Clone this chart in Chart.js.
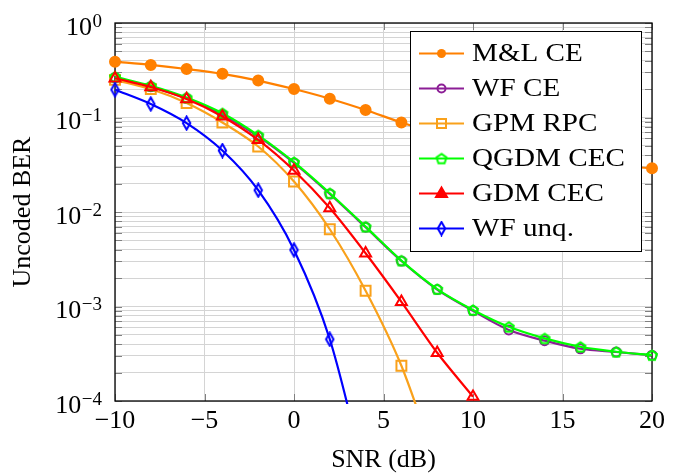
<!DOCTYPE html>
<html>
<head>
<meta charset="utf-8">
<script src="https://cdn.jsdelivr.net/npm/chart.js@4.4.1/dist/chart.umd.min.js"></script>
<style>
  html, body { margin: 0; padding: 0; background: #fff; }
</style>
</head>
<body>
<canvas id="berChart" width="683" height="476"></canvas>
<script>
// SNR grid and BER curves
const snr = [-10, -8, -6, -4, -2, 0, 2, 4, 6, 8, 10, 12, 14, 16, 18, 20];
const mlCE    = [0.39, 0.36, 0.326, 0.29, 0.246, 0.2, 0.158, 0.12, 0.0885, 0.068, 0.055, 0.046, 0.039, 0.034, 0.031, 0.029];
const wfCE    = [0.265, 0.212, 0.159, 0.107, 0.063, 0.033, 0.0155, 0.0069, 0.00303, 0.00151, 0.0009, 0.000565, 0.000435, 0.000357, 0.00033, 0.000305];
const gpmRPC  = [0.25, 0.2, 0.142, 0.0885, 0.0493, 0.021, 0.00657, 0.00147, 0.000236, 0.00002];
const qgdmCEC = [0.27, 0.217, 0.163, 0.111, 0.0648, 0.0337, 0.0158, 0.0070, 0.00306, 0.00153, 0.00092, 0.00061, 0.00046, 0.000375, 0.000332, 0.000306];
const gdmCEC  = [0.26, 0.21, 0.157, 0.1026, 0.058, 0.0275, 0.011, 0.00366, 0.00112, 0.000324, 0.000111];
const wfUnq   = [0.197, 0.139, 0.0873, 0.0447, 0.017, 0.00397, 0.00045, 0.000015];
const seriesNames = ['M&L CE', 'WF CE', 'GPM RPC', 'QGDM CEC', 'GDM CEC', 'WF unq.'];
const xTickValues = [-10, -5, 0, 5, 10, 15, 20];
const yDecades = [0, -1, -2, -3, -4];

const FONT = '"Liberation Serif", "DejaVu Serif", serif';
Chart.defaults.font.family = FONT;
Chart.defaults.color = '#000';

// small canvases for markers Chart.js has no built-in shape for
function markCanvas(w, h, color, path) {
    const c = document.createElement('canvas');
    c.width = w; c.height = h;
    const g = c.getContext('2d');
    g.strokeStyle = color;
    g.lineWidth = 2;
    g.lineJoin = 'miter';
    g.beginPath();
    path(g, w, h);
    g.closePath();
    g.stroke();
    return c;
}
const pentagon = markCanvas(14, 14, '#00ff00', (g, w, h) => {
    for (let k = 0; k < 5; k++) {
        const a = -Math.PI / 2 + k * 2 * Math.PI / 5;
        const px = w / 2 + 5.2 * Math.cos(a), py = h / 2 + 0.6 + 5.2 * Math.sin(a);
        if (k) g.lineTo(px, py); else g.moveTo(px, py);
    }
});
const diamond = markCanvas(11, 16, '#0000ff', (g, w, h) => {
    g.moveTo(w / 2, 1.5); g.lineTo(w - 1.8, h / 2); g.lineTo(w / 2, h - 1.5); g.lineTo(1.8, h / 2);
});

function pts(values) {
    return values.map((v, i) => ({ x: snr[i], y: v }));
}

const styles = [
    { color: '#ff8000', pointStyle: 'circle',   radius: 5,   fill: true },
    { color: '#8c1e96', pointStyle: 'circle',   radius: 4.5, fill: false },
    { color: '#f9a11b', pointStyle: 'rect',     radius: 7,   fill: false },
    { color: '#00ff00', pointStyle: pentagon,   radius: 6,   fill: false },
    { color: '#ff0000', pointStyle: 'triangle', radius: 6.3, fill: false },
    { color: '#0000ff', pointStyle: diamond,    radius: 6,   fill: false }
];
const seriesData = [mlCE, wfCE, gpmRPC, qgdmCEC, gdmCEC, wfUnq];

const datasets = seriesData.map((vals, i) => ({
    label: seriesNames[i],
    data: pts(vals),
    borderColor: styles[i].color,
    backgroundColor: styles[i].color,
    pointStyle: styles[i].pointStyle,
    pointRadius: styles[i].radius,
    pointBorderWidth: 2,
    pointBorderColor: styles[i].color,
    pointBackgroundColor: styles[i].fill ? styles[i].color : 'rgba(0,0,0,0)',
    borderWidth: 2.2,
    tension: 0.3,
    fill: false,
    order: 6 - i,
    clip: { left: 8, right: 8, top: 0, bottom: 3 }
}));

function drawMarker(ctx, st, x, y) {
    ctx.save();
    ctx.strokeStyle = st.color;
    ctx.fillStyle = st.color;
    ctx.lineWidth = 2;
    if (st.pointStyle instanceof HTMLCanvasElement) {
        ctx.drawImage(st.pointStyle, x - st.pointStyle.width / 2, y - st.pointStyle.height / 2);
    } else if (st.pointStyle === 'circle') {
        ctx.beginPath();
        ctx.arc(x, y, st.fill ? 4.5 : 4, 0, Math.PI * 2);
        if (st.fill) ctx.fill(); else ctx.stroke();
    } else if (st.pointStyle === 'rect') {
        ctx.strokeRect(x - 4.5, y - 4.5, 9, 9);
    } else if (st.pointStyle === 'triangle') {
        ctx.beginPath();
        ctx.moveTo(x, y - 6); ctx.lineTo(x + 5.5, y + 3.5); ctx.lineTo(x - 5.5, y + 3.5);
        ctx.closePath();
        ctx.fill(); ctx.stroke();
    }
    ctx.restore();
}

const frame = {
    id: 'frame',
    beforeDatasetsDraw(chart) {
        const { ctx, chartArea: a, scales: { x, y } } = chart;
        ctx.save();
        ctx.strokeStyle = '#808080';
        ctx.lineWidth = 1;
        ctx.beginPath();
        y.ticks.forEach(t => {
            const py = Math.round(y.getPixelForValue(t.value)) + 0.5;
            ctx.moveTo(a.left, py); ctx.lineTo(a.left + 7, py);
            ctx.moveTo(a.right, py); ctx.lineTo(a.right - 7, py);
        });
        x.ticks.forEach(t => {
            const px = Math.round(x.getPixelForValue(t.value)) + 0.5;
            ctx.moveTo(px, a.top); ctx.lineTo(px, a.top + 7);
            ctx.moveTo(px, a.bottom); ctx.lineTo(px, a.bottom - 7);
        });
        ctx.stroke();
        ctx.strokeStyle = '#000';
        ctx.lineWidth = 1.3;
        ctx.strokeRect(a.left, a.top, a.right - a.left, a.bottom - a.top);
        ctx.restore();
    },
    afterDraw(chart) {
        const { ctx, chartArea: a, scales: { y } } = chart;
        ctx.save();
        // y tick labels with raised exponents
        ctx.fillStyle = '#000';
        ctx.textBaseline = 'alphabetic';
        ctx.textAlign = 'left';
        yDecades.forEach(e => {
            const py = y.getPixelForValue(Math.pow(10, e));
            const ex = e === 0 ? '0' : '\u2212' + Math.abs(e);
            ctx.font = '19px ' + FONT;
            const ew = ctx.measureText(ex).width;
            const right = a.left - 13;
            ctx.fillText(ex, right - ew, py + 3.5);
            ctx.font = '26px ' + FONT;
            const bw = ctx.measureText('10').width;
            ctx.fillText('10', right - ew - bw - 0.5, py + 11.5);
        });

        // legend box inside the plot, top right
        const bx = a.right - 242, by = a.top + 8, bw = 231, bh = 220;
        ctx.fillStyle = '#fff';
        ctx.fillRect(bx, by, bw, bh);
        ctx.strokeStyle = '#000';
        ctx.lineWidth = 1;
        ctx.strokeRect(bx + 0.5, by + 0.5, bw, bh);
        ctx.font = '26px ' + FONT;
        ctx.textBaseline = 'middle';
        seriesNames.forEach((name, i) => {
            const ry = by + 22.5 + i * 35;
            ctx.strokeStyle = styles[i].color;
            ctx.lineWidth = 2.2;
            ctx.beginPath();
            ctx.moveTo(bx + 9, ry); ctx.lineTo(bx + 54, ry);
            ctx.stroke();
            drawMarker(ctx, styles[i], bx + 31.5, ry);
            ctx.fillStyle = '#000';
            ctx.save();
            ctx.translate(bx + 62, ry + 1);
            ctx.scale(1.12, 1);
            ctx.fillText(name, 0, 0);
            ctx.restore();
        });
        ctx.restore();
    }
};

new Chart(document.getElementById('berChart'), {
    type: 'line',
    data: { datasets: datasets },
    options: {
        responsive: false,
        animation: false,
        layout: { padding: { top: 23, right: 31, left: 0, bottom: 0 } },
        plugins: { legend: { display: false }, tooltip: { enabled: false } },
        scales: {
            x: {
                type: 'linear',
                min: -10,
                max: 20,
                afterBuildTicks: s => { s.ticks = xTickValues.map(v => ({ value: v })); },
                afterFit: s => { s.height = 75; },
                grid: { color: '#d4d4d4', drawTicks: false },
                border: { display: false },
                ticks: {
                    font: { size: 26 },
                    padding: 5,
                    maxRotation: 0,
                    callback: v => (v < 0 ? '\u2212' + Math.abs(v) : String(v))
                },
                title: { display: true, text: 'SNR (dB)', font: { size: 26 }, padding: { top: 0, bottom: 0 } }
            },
            y: {
                type: 'logarithmic',
                min: 1e-4,
                max: 1,
                afterBuildTicks: s => {
                    const t = [];
                    for (let e = -4; e < 0; e++) {
                        for (let m = 1; m < 10; m++) t.push({ value: m * Math.pow(10, e), major: m === 1 });
                    }
                    t.push({ value: 1, major: true });
                    s.ticks = t;
                },
                afterFit: s => { s.width = 115; },
                grid: { color: '#d4d4d4', drawTicks: false },
                border: { display: false },
                ticks: { display: false },
                title: { display: true, text: 'Uncoded BER', font: { size: 26 }, padding: { top: 8, bottom: 0 } }
            }
        }
    },
    plugins: [frame]
});
</script>
</body>
</html>
